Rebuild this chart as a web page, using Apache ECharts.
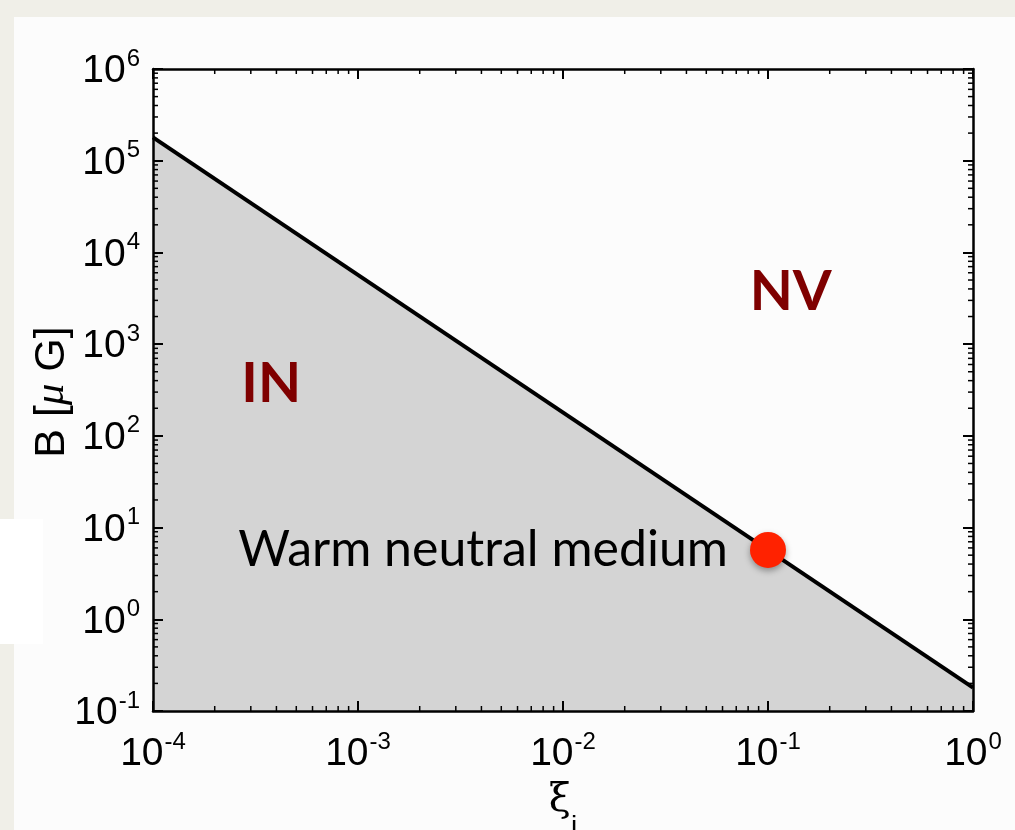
<!DOCTYPE html>
<html>
<head>
<meta charset="utf-8">
<script src="https://cdn.jsdelivr.net/npm/echarts@6/dist/echarts.min.js"></script>
<style>
html,body{margin:0;padding:0;background:#f0efe8;}
#chart{width:1015px;height:830px;}
</style>
</head>
<body>
<div id="chart"></div>
<script>
// ---- data ----
var xRange = [1e-4, 1];          // xi_i
var yRange = [1e-1, 1e6];        // B [muG]
var boundaryLine = [[1e-4, 1.8e5], [1, 0.18]];   // IN / NV boundary
var wnmPoint = [[0.1, 5.7]];                      // Warm neutral medium
var wnmLabel = 'Warm neutral medium';
var regionLabels = [
  {name: 'IN', value: [3.77e-4, 372]},
  {name: 'NV', value: [0.129, 3700]}
];
var xDecades = [1e-4, 1e-3, 1e-2, 1e-1];
var yDecades = [1e-1, 1, 10, 1e2, 1e3, 1e4, 1e5];
var minorMult = [2, 3, 4, 5, 6, 7, 8, 9];

var xMinor = [], yMinor = [];
xDecades.forEach(function(d){ minorMult.forEach(function(m){ xMinor.push([d*m, 1]); }); });
yDecades.forEach(function(d){ minorMult.forEach(function(m){ yMinor.push([1e-2, d*m]); }); });

var chart = echarts.init(document.getElementById('chart'), null, {renderer: 'canvas'});

function powLabel(v){
  var e = Math.round(Math.log(v)/Math.LN10);
  return '{b|10}{e|' + e + '}';
}
var labelRich = {
  b: {fontFamily: 'Liberation Sans', fontSize: 39, color: '#000', lineHeight: 44, verticalAlign: 'bottom'},
  e: {fontFamily: 'Liberation Sans', fontSize: 24, color: '#000', lineHeight: 44, verticalAlign: 'top', padding: [0,0,0,1]}
};
var axLine = {show: true, lineStyle: {color: '#000', width: 2.5}};
var axTick = {show: true, inside: true, length: 10, lineStyle: {color: '#000', width: 2}};

function minorTicks(isX){
  return function(params, api){
    var cs = params.coordSys;
    var L = 5, lines = [];
    if (isX){
      var px = api.coord([api.value(0), api.value(1)])[0];
      var yb = cs.y + cs.height, yt = cs.y;
      lines.push({type:'line', shape:{x1:px, y1:yb, x2:px, y2:yb-L}, style:{stroke:'#000', lineWidth:1.5}});
      lines.push({type:'line', shape:{x1:px, y1:yt, x2:px, y2:yt+L}, style:{stroke:'#000', lineWidth:1.5}});
    } else {
      var py = api.coord([api.value(0), api.value(1)])[1];
      var xl = cs.x, xr = cs.x + cs.width;
      lines.push({type:'line', shape:{x1:xl, y1:py, x2:xl+L, y2:py}, style:{stroke:'#000', lineWidth:1.5}});
      lines.push({type:'line', shape:{x1:xr, y1:py, x2:xr-L, y2:py}, style:{stroke:'#000', lineWidth:1.5}});
    }
    return {type:'group', children: lines};
  };
}

var option = {
  backgroundColor: '#f0efe8',
  animation: false,
  graphic: [
    {type:'rect', z:-10, shape:{x:14, y:17, width:1001, height:813}, style:{fill:'#fcfcfc'}},
    {type:'rect', z:-10, shape:{x:0, y:519, width:43, height:125}, style:{fill:'#ffffff'}},
    {type:'text', z:20, x:52, y:392, rotation: Math.PI/2,
      style:{text:'{a|B [}{m|μ}{a| G]}', textAlign:'center', textVerticalAlign:'middle',
        rich:{a:{fontFamily:'Liberation Sans', fontSize:43, fill:'#000'},
              m:{fontFamily:'Liberation Serif', fontStyle:'italic', fontSize:43, fill:'#000'}}}},
    {type:'text', z:20, x:563, y:801,
      style:{text:'{a|ξ}{s|i}', textAlign:'center', textVerticalAlign:'middle',
        rich:{a:{fontFamily:'DejaVu Serif', fontSize:40, fill:'#000', lineHeight:48},
              s:{fontFamily:'Liberation Sans', fontSize:28, fill:'#000', verticalAlign:'bottom', lineHeight:48, padding:[0,0,-16,0]}}}}
  ],
  grid: {left: 153, top: 69, width: 820, height: 642, containLabel: false},
  xAxis: [
    {type:'log', logBase:10, min:xRange[0], max:xRange[1], interval:1, splitNumber:4, position:'bottom', z:10,
      axisLine: axLine, axisTick: axTick, splitLine:{show:false},
      axisLabel:{show:true, margin:19, formatter: powLabel, rich: labelRich}},
    {type:'log', logBase:10, min:xRange[0], max:xRange[1], interval:1, splitNumber:4, position:'top', z:10,
      axisLine: axLine, axisTick: axTick, splitLine:{show:false}, axisLabel:{show:false}}
  ],
  yAxis: [
    {type:'log', logBase:10, min:yRange[0], max:yRange[1], interval:1, splitNumber:7, position:'left', z:10,
      axisLine: axLine, axisTick: axTick, splitLine:{show:false},
      axisLabel:{show:true, margin:13, formatter: powLabel, rich: labelRich}},
    {type:'log', logBase:10, min:yRange[0], max:yRange[1], interval:1, splitNumber:7, position:'right', z:10,
      axisLine: axLine, axisTick: axTick, splitLine:{show:false}, axisLabel:{show:false}}
  ],
  series: [
    {type:'line', data: boundaryLine, symbol:'none', z:3,
      lineStyle:{color:'#000', width:4},
      areaStyle:{color:'#d4d4d4', opacity:1, origin:'start'}},
    {type:'custom', data: xMinor, renderItem: minorTicks(true), z:11, silent:true},
    {type:'custom', data: yMinor, renderItem: minorTicks(false), z:11, silent:true},
    {type:'scatter', data: regionLabels, symbolSize: 0, z:5,
      itemStyle:{opacity:1},
      label:{show:true, position:'inside', formatter: function(p){return p.name;},
        fontFamily:'Lato', fontWeight:'bold', fontSize:56, color:'#7f0000'}},
    {type:'scatter', data: wnmPoint, symbolSize: 36, z:6,
      itemStyle:{color:'#ff2200', opacity:1, shadowBlur:6, shadowColor:'rgba(0,0,0,0.35)', shadowOffsetY:3},
      label:{show:true, position:'left', distance:22, formatter: wnmLabel,
        fontFamily:'Lato', fontSize:50, color:'#000'}}
  ]
};
chart.setOption(option);
</script>
</body>
</html>
